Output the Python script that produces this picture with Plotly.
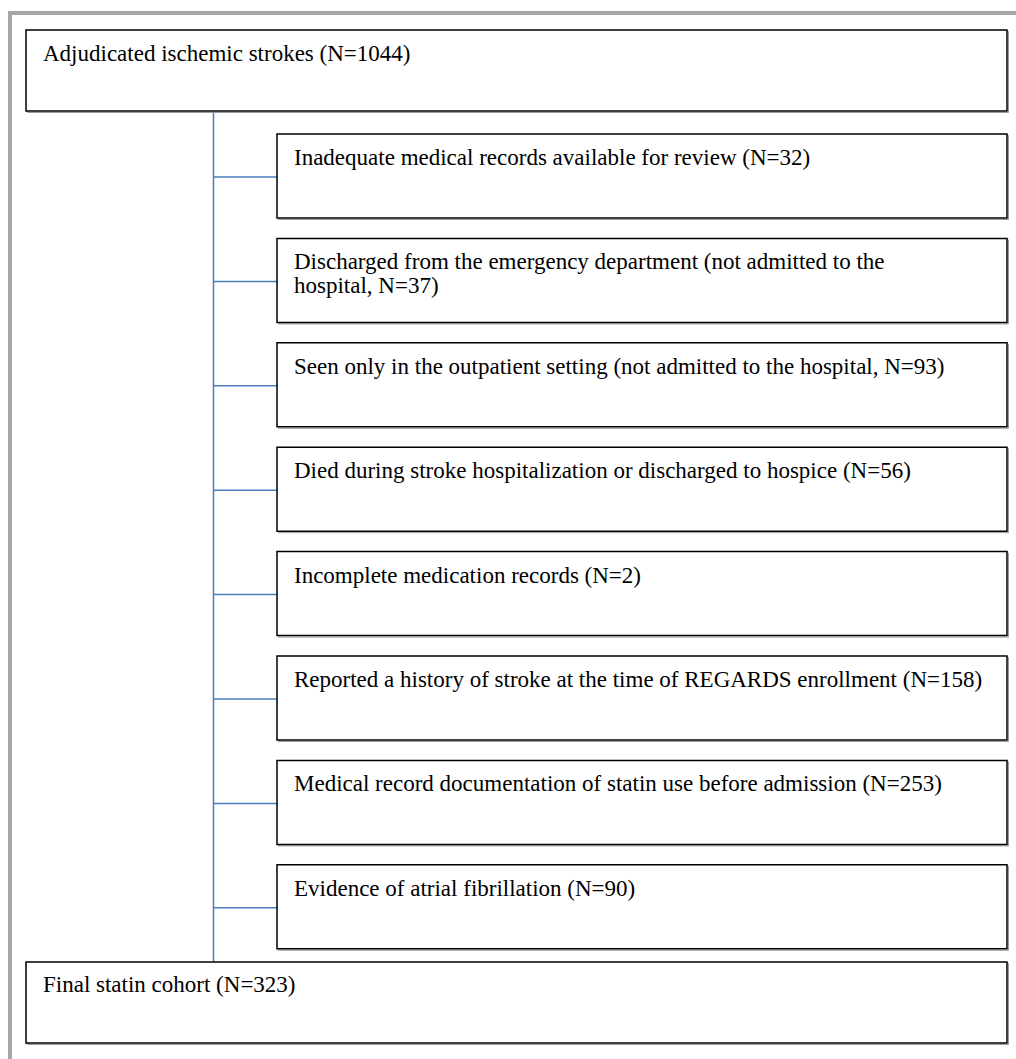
import plotly.graph_objects as go

# ---- data ----
start_label = "Adjudicated ischemic strokes"
start_n = 1044
exclusion_labels = [
    "Inadequate medical records available for review",
    "Discharged from the emergency department (not admitted to the\nhospital,",
    "Seen only in the outpatient setting (not admitted to the hospital,",
    "Died during stroke hospitalization or discharged to hospice",
    "Incomplete medication records",
    "Reported a history of stroke at the time of REGARDS enrollment",
    "Medical record documentation of statin use before admission",
    "Evidence of atrial fibrillation",
]
exclusion_n = [32, 37, 93, 56, 2, 158, 253, 90]
final_label = "Final statin cohort"
final_n = 323

# ---- layout constants (pixels) ----
W, H = 1016, 1059
FONT = dict(family="Liberation Serif, Times New Roman, serif", size=23, color="black")
BOX_LINE = dict(color="black", width=1.5)
CONN = dict(color="#4a7ebb", width=1.5)
FRAME = dict(color="#a6a6a6", width=4)

main_x0, main_x1 = 26, 1007
top_y0, top_y1 = 30, 111
child_x0, child_x1 = 277, 1007
child_top0, child_step, child_h = 134, 104.4, 84
final_y0, final_y1 = 962, 1043
trunk_x = 213.5
text_off = 23.5
line_gap = 24

shapes = []
annotations = []

# outer frame
shapes.append(dict(type="line", x0=10, x1=W + 5, y0=13, y1=13, line=FRAME))
shapes.append(dict(type="line", x0=10, x1=10, y0=11, y1=H + 5, line=FRAME))


def box(x0, x1, y0, y1):
    shapes.append(dict(type="rect", x0=x0 + 1.5, x1=x1 + 1.5, y0=y0 + 1.5, y1=y1 + 1.5,
                       line=dict(color="#9a9a9a", width=1), fillcolor="rgba(0,0,0,0)"))
    shapes.append(dict(type="rect", x0=x0, x1=x1, y0=y0, y1=y1,
                       line=BOX_LINE, fillcolor="white"))


def text(x, y, s):
    for k, ln in enumerate(s.split("\n")):
        annotations.append(dict(x=x, y=y + k * line_gap, text=ln, showarrow=False,
                                xanchor="left", yanchor="middle", xref="x", yref="y",
                                font=FONT))


def with_n(label, n):
    return f"{label} N={n})" if label.endswith(",") else f"{label} (N={n})"


# trunk
shapes.append(dict(type="line", x0=trunk_x, x1=trunk_x, y0=top_y1 + 2, y1=final_y0, line=CONN))

# top box
box(main_x0, main_x1, top_y0, top_y1)
text(main_x0 + 15, top_y0 + text_off, with_n(start_label, start_n))

# exclusion boxes
for i, (lab, n) in enumerate(zip(exclusion_labels, exclusion_n)):
    y0 = child_top0 + i * child_step
    y1 = y0 + child_h
    ym = y0 + 43
    shapes.append(dict(type="line", x0=trunk_x, x1=child_x0, y0=ym, y1=ym, line=CONN))
    box(child_x0, child_x1, y0, y1)
    text(child_x0 + 15, y0 + text_off, with_n(lab, n))

# final box
box(main_x0, main_x1, final_y0, final_y1)
text(main_x0 + 15, final_y0 + text_off - 1, with_n(final_label, final_n))

fig = go.Figure()
fig.update_layout(
    width=W, height=H,
    margin=dict(l=0, r=0, t=0, b=0),
    paper_bgcolor="white", plot_bgcolor="white",
    xaxis=dict(range=[0, W], visible=False, fixedrange=True),
    yaxis=dict(range=[H, 0], visible=False, fixedrange=True),
    shapes=shapes, annotations=annotations, showlegend=False,
)
fig.write_html("out.html", config={"displayModeBar": False},
               post_script="document.body.style.margin='0';document.body.style.overflow='hidden';")
